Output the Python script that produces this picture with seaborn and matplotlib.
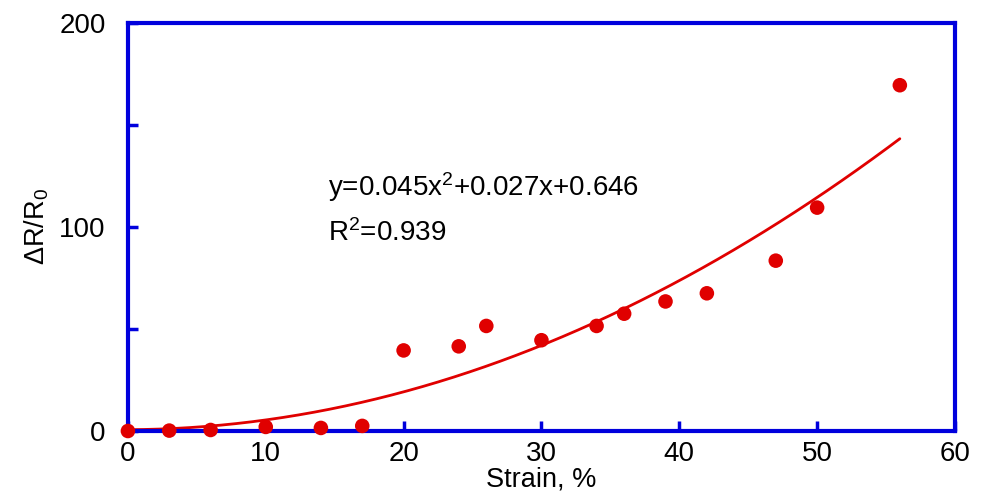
import numpy as np
import pandas as pd
import matplotlib
matplotlib.use("Agg")
import matplotlib.pyplot as plt
import seaborn as sns

strain = [0, 3, 6, 10, 14, 17, 20, 24, 26, 30, 34, 36, 39, 42, 47, 50, 56]
resistance = [0, 0.2, 0.5, 2.0, 1.5, 2.5, 39.5, 41.5, 51.5, 44.5, 51.5, 57.5, 63.5, 67.5, 83.5, 109.5, 169.5]
fit_coef = [0.045, 0.027, 0.646]
x_ticks = [0, 10, 20, 30, 40, 50, 60]
y_ticks = [0, 50, 100, 150, 200]
y_tick_labels = ["0", "", "100", "", "200"]

sns.set_theme(style="white")
plt.rcParams["font.family"] = ["Liberation Sans", "DejaVu Sans"]
plt.rcParams["mathtext.fontset"] = "custom"
plt.rcParams["mathtext.rm"] = "Liberation Sans"
plt.rcParams["mathtext.it"] = "Liberation Sans:italic"
plt.rcParams["text.color"] = "black"
plt.rcParams["axes.labelcolor"] = "black"

df = pd.DataFrame({"strain": strain, "res": resistance})
xf = np.linspace(0, max(strain), 200)
yf = np.polyval(fit_coef, xf)
fit_df = pd.DataFrame({"x": xf, "y": yf})

fig = plt.figure(figsize=(9.84, 5.0), dpi=100)
ax = fig.add_axes([0.130, 0.138, 0.8405, 0.816])

red = "#e00000"
blue = "#0000dd"
sns.lineplot(data=fit_df, x="x", y="y", ax=ax, color=red, linewidth=2, zorder=2)
sns.scatterplot(data=df, x="strain", y="res", ax=ax, color=red, s=110,
                edgecolor="none", zorder=3, clip_on=False)

ax.set_xlim(0, 60)
ax.set_ylim(0, 200)
ax.set_xticks(x_ticks)
ax.set_yticks(y_ticks)
ax.set_yticklabels(y_tick_labels)
for s in ax.spines.values():
    s.set_color(blue)
    s.set_linewidth(3)
    s.set_visible(True)
ax.tick_params(axis="both", direction="in", length=7, width=2.5, color=blue,
               labelsize=20, labelcolor="black", bottom=True, left=True,
               top=False, right=False)
ax.tick_params(axis="y", pad=16)
ax.tick_params(axis="x", pad=7)
ax.set_xlabel("Strain, %", fontsize=19.5, labelpad=0)
ax.set_ylabel("ΔR/R$_0$", fontsize=19.5, labelpad=6)

ax.text(14.5, 119.5, "y=0.045x$^2$+0.027x+0.646", fontsize=20, va="center", ha="left")
ax.text(14.5, 97, "R$^2$=0.939", fontsize=20, va="center", ha="left")

fig.savefig("out.png", dpi=100)
